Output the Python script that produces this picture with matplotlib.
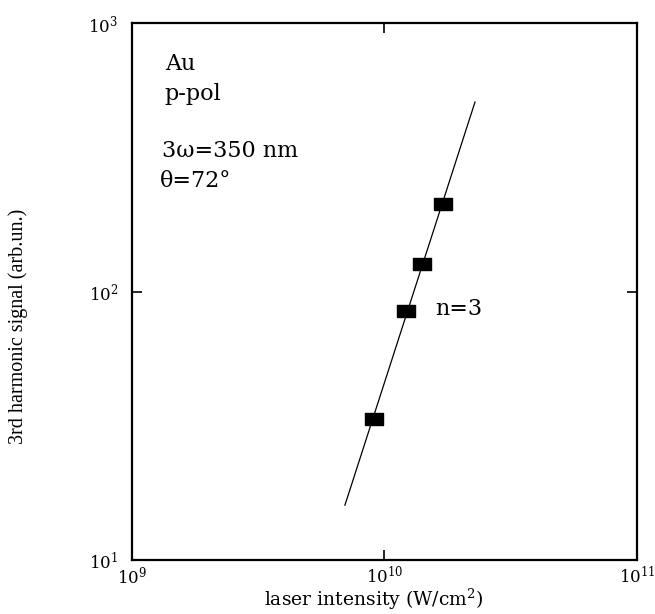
import matplotlib
matplotlib.use("Agg")
import matplotlib.pyplot as plt
from matplotlib.ticker import LogLocator, NullLocator

# Data
intensity = [1.705e10, 1.408e10, 1.216e10, 9.09e9]   # W/cm^2
signal = [212, 126.6, 84.6, 33.5]                    # arb. units
fit_x = [6.97e9, 2.283e10]
fit_y = [16.0, 508]

plt.rcParams['font.family'] = ['DejaVu Serif']
plt.rcParams['mathtext.fontset'] = 'dejavuserif'

fig = plt.figure(figsize=(6.55, 6.14), dpi=100)
ax = fig.add_axes([0.2015, 0.0879, 0.771, 0.8746])

# rectangular filled markers, wider than tall
box = [(-1.4, -1), (1.4, -1), (1.4, 1), (-1.4, 1), (-1.4, -1)]
ax.plot(fit_x, fit_y, color='black', linewidth=0.9)
ax.plot(intensity, signal, linestyle='none', marker=box, markersize=13,
        color='black')

ax.set_xscale('log')
ax.set_yscale('log')
ax.set_xlim(1e9, 1e11)
ax.set_ylim(1e1, 1e3)
ax.xaxis.set_major_locator(LogLocator(base=10))
ax.yaxis.set_major_locator(LogLocator(base=10))
ax.xaxis.set_minor_locator(NullLocator())
ax.yaxis.set_minor_locator(NullLocator())
ax.tick_params(which='major', direction='in', length=7, width=1.2,
               top=True, right=True, labelsize=12)
ax.tick_params(axis='x', pad=4)
ax.tick_params(axis='y', pad=10)

for side in ['bottom', 'top', 'left', 'right']:
    ax.spines[side].set_linewidth(1.6)

ax.set_xlabel('laser intensity (W/cm$^2$)', fontsize=13.5)
ax.xaxis.set_label_coords(0.479, -0.05)
ax.set_ylabel('3rd harmonic signal (arb.un.)', fontsize=14.5,
              family='Liberation Serif')
ax.yaxis.set_label_coords(-0.205, 0.436)

# Annotations
ax.text(0.065, 0.9125, 'Au', transform=ax.transAxes, fontsize=16, va='baseline')
ax.text(0.065, 0.857, 'p-pol', transform=ax.transAxes, fontsize=16, va='baseline')
ax.text(0.059, 0.750, '3\u03c9=350 nm', transform=ax.transAxes, fontsize=16, va='baseline')
ax.text(0.055, 0.695, '\u03b8=72\u00b0', transform=ax.transAxes, fontsize=16, va='baseline')
ax.text(0.60, 0.456, 'n=3', transform=ax.transAxes, fontsize=16, va='baseline')

fig.savefig('out.png', dpi=100)
